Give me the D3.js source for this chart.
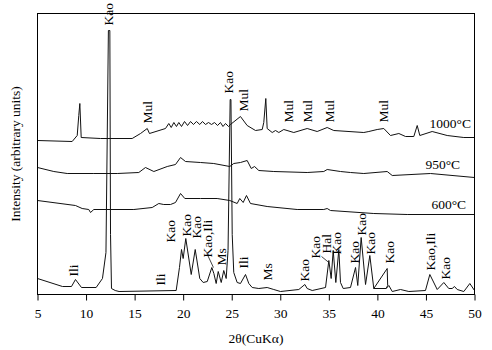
<!DOCTYPE html>
<html>
<head>
<meta charset="utf-8">
<script src="https://cdn.jsdelivr.net/npm/d3@7/dist/d3.min.js"></script>
<style>
  body { margin: 0; background: #fff; }
  svg text { font-family: "Liberation Serif", "Times New Roman", serif; fill: #000; }
</style>
</head>
<body>
<svg id="chart" width="492" height="350"></svg>
<script>
// XRD patterns: raw kaolin sample and after calcination at 600, 950, 1000 C.
// Each pattern is [2theta, intensity] in arbitrary units (0 = bottom of frame).
var xTicks = [5, 10, 15, 20, 25, 30, 35, 40, 45, 50];

var rawPattern = [
    [5.0, 16], [7.57, 8], [8.5, 8], [8.91, 15], [9.53, 7], [11.04, 7], [11.69, 16],
    [12.05, 42], [12.3, 264], [12.45, 264], [12.52, 60], [12.62, 6], [13.0, 4], [13.4, 3],
    [19.28, 4], [19.62, 27], [19.83, 45], [20.0, 36], [20.27, 56], [20.83, 20],
    [21.24, 45], [21.71, 16], [22.06, 12], [22.48, 13], [22.95, 27], [23.16, 21],
    [23.4, 11], [23.61, 23], [23.92, 12], [24.18, 24], [24.43, 16], [24.62, 44],
    [24.84, 195], [24.92, 195], [25.05, 60], [25.21, 22], [25.56, 12], [25.9, 11],
    [26.42, 20], [26.76, 11], [27.11, 7], [27.79, 6], [28.65, 7], [29.33, 5],
    [30.02, 3], [31.91, 5], [32.53, 10], [32.77, 6], [33.29, 4], [34.66, 7],
    [35.0, 34], [35.24, 16], [35.45, 44], [35.72, 12], [36.03, 45], [36.2, 12],
    [36.48, 6], [37.23, 7], [37.75, 27], [37.98, 9], [38.33, 57], [38.78, 10],
    [39.22, 39], [39.63, 6], [41.01, 26], [41.06, 9], [40.9, 6], [39.63, 6],
    [40.9, 6], [41.18, 9], [41.53, 3], [42.38, 5], [43.24, 3], [44.95, 4],
    [45.4, 20], [46.16, 5], [46.84, 12], [47.35, 6], [47.7, 6], [47.94, 8],
    [48.22, 5], [48.9, 3], [49.52, 11], [50.0, 4]
];

var pattern600 = [
    [5.0, 94], [8.91, 89], [9.6, 86], [10.28, 85], [10.46, 82], [10.8, 85],
    [14.92, 85], [16.81, 87], [17.49, 91], [18.0, 90], [18.7, 90], [19.21, 92],
    [19.73, 101], [20.17, 96], [21.79, 96], [23.5, 96], [24.8, 94], [25.56, 91],
    [25.83, 96], [26.18, 92], [26.52, 99], [26.93, 91], [28.65, 88], [31.74, 85],
    [34.48, 85], [34.83, 86], [35.17, 84], [39.63, 81], [43.07, 80], [50.0, 80]
];

var pattern950 = [
    [5.0, 127], [6.68, 123], [8.06, 121], [10.8, 121], [13.21, 121], [15.43, 122],
    [16.12, 127], [16.98, 123], [18.36, 128], [19.21, 130], [19.73, 137], [20.24, 133],
    [21.79, 132], [23.15, 131], [24.8, 128], [25.21, 131], [25.9, 132], [26.59, 134],
    [27.01, 126], [27.35, 128], [27.79, 124], [29.33, 123], [32.77, 122], [34.48, 123],
    [34.83, 125], [36.2, 123], [37.23, 122], [38.6, 121], [41.01, 123], [41.53, 119],
    [45.47, 121], [50.0, 117]
];

var pattern1000 = [
    [5.0, 154], [8.57, 153], [9.09, 159], [9.25, 179], [9.36, 191], [9.5, 157],
    [11.49, 156], [14.75, 156], [15.61, 161], [16.3, 166], [16.53, 161], [18.18, 166],
    [18.52, 171], [18.77, 167], [19.04, 172], [19.31, 168], [19.55, 172], [19.83, 168],
    [20.14, 173], [20.45, 169], [20.76, 173], [21.06, 170], [21.37, 173], [21.71, 170],
    [21.99, 173], [22.3, 170], [22.61, 172], [22.92, 170], [23.23, 172], [23.54, 169],
    [23.84, 172], [24.1, 168], [24.36, 171], [24.67, 168], [24.87, 170], [25.9, 178],
    [26.59, 169], [27.45, 164], [28.14, 165], [28.3, 172], [28.51, 196], [28.65, 166],
    [29.17, 162], [29.51, 164], [29.85, 162], [30.36, 165], [31.39, 162], [32.77, 166],
    [33.8, 163], [34.83, 167], [35.51, 164], [38.6, 162], [39.12, 163], [39.98, 165],
    [40.66, 166], [41.35, 159], [42.21, 161], [42.9, 158], [43.75, 158], [44.1, 169],
    [44.37, 159], [45.64, 163], [47.19, 159], [48.9, 157], [50.0, 157]
];

// Phase labels: text, 2theta at baseline, intensity at start of text
var phaseText = ['Kao', 'Mul', 'Kao', 'Mul', 'Mul', 'Mul', 'Mul', 'Mul',
    'Ili', 'Ili', 'Kao', 'Kao', 'Kao', 'Kao,Ili', 'Ms', 'Ili', 'Ms', 'Kao', 'Kao',
    'Hal', 'Kao', 'Kao', 'Kao', 'Kao', 'Kao', 'Kao,Ili', 'Kao'];
var phaseX = [12.77, 16.84, 25.18, 26.63, 31.36, 33.27, 35.58, 41.09,
    9.22, 18.18, 19.21, 20.76, 21.84, 22.97, 24.36, 26.63, 29.1, 32.91, 34.14,
    35.27, 36.3, 38.06, 38.83, 39.75, 41.66, 45.98, 47.48];
var phaseY = [269, 171, 201, 183, 172, 172, 172, 172,
    18, 9, 52, 58, 56, 37, 29, 26, 14, 13, 36,
    41, 40, 31, 59, 40, 31, 24, 15];

// Leader lines from a label to its peak
var leaders = [
    [[22.44, 41], [23.12, 27]],
    [[34.25, 38], [35.0, 32]]
];

var tempText = ['1000°C', '950°C', '600°C'];
var tempX = [45.37, 44.95, 45.57];
var tempY = [167, 126, 86];

(function () {
    var svg = d3.select('#chart');
    var m = { top: 13, right: 18, bottom: 56, left: 37 };
    var W = 492, H = 350;
    var iw = W - m.left - m.right;
    var ih = H - m.top - m.bottom;
    var g = svg.append('g').attr('transform', 'translate(' + (m.left + 0.5) + ',' + (m.top + 0.5) + ')');

    var x = d3.scaleLinear().domain([5, 50]).range([0, iw]);
    var y = d3.scaleLinear().domain([0, ih]).range([ih, 0]);
    var line = d3.line().x(function (d) { return x(d[0]); }).y(function (d) { return y(d[1]); });

    [rawPattern, pattern600, pattern950, pattern1000].forEach(function (p) {
        g.append('path')
            .datum(p)
            .attr('fill', 'none')
            .attr('stroke', '#111')
            .attr('stroke-width', 1)
            .attr('stroke-linejoin', 'round')
            .attr('d', line);
    });

    leaders.forEach(function (l) {
        g.append('path').datum(l)
            .attr('fill', 'none').attr('stroke', '#111').attr('stroke-width', 0.8)
            .attr('d', line);
    });

    // Frame
    g.append('rect')
        .attr('x', 0).attr('y', 0).attr('width', iw).attr('height', ih)
        .attr('fill', 'none').attr('stroke', '#000').attr('stroke-width', 1);

    // Bottom axis
    var ax = g.append('g')
        .attr('transform', 'translate(0,' + ih + ')')
        .call(d3.axisBottom(x).tickValues(xTicks).tickSize(6).tickPadding(8)
            .tickFormat(function (d) { return d; }));
    ax.select('.domain').remove();
    ax.selectAll('line').attr('stroke', '#000');
    ax.selectAll('text').attr('font-size', 13.5).attr('font-family', '"Liberation Serif", serif');

    // Phase labels
    phaseText.forEach(function (t, i) {
        g.append('text')
            .attr('transform', 'translate(' + x(phaseX[i]) + ',' + y(phaseY[i]) + ') rotate(-90)')
            .attr('font-size', 13.5)
            .attr('text-anchor', 'start')
            .text(t);
    });

    tempText.forEach(function (t, i) {
        g.append('text')
            .attr('x', x(tempX[i])).attr('y', y(tempY[i]))
            .attr('font-size', 13.5)
            .text(t);
    });

    // Axis titles
    g.append('text')
        .attr('x', iw / 2).attr('y', ih + 48)
        .attr('text-anchor', 'middle')
        .attr('font-size', 13.5)
        .text('2θ(CuKα)');
    g.append('text')
        .attr('transform', 'translate(' + (-18) + ',' + (ih / 2) + ') rotate(-90)')
        .attr('text-anchor', 'middle')
        .attr('font-size', 13.5)
        .text('Intensity (arbitrary units)');
})();
</script>
</body>
</html>
